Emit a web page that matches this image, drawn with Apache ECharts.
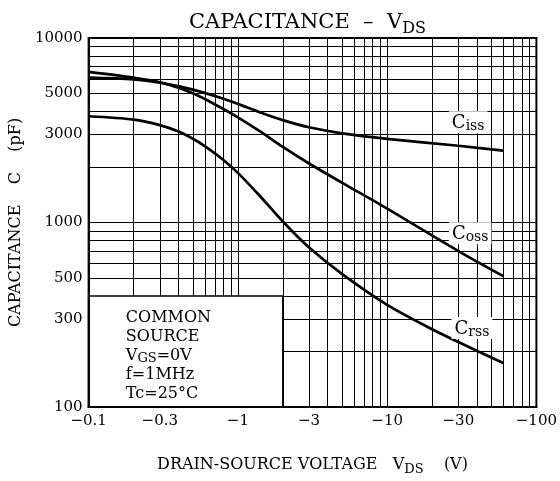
<!DOCTYPE html>
<html><head><meta charset="utf-8">
<script src="https://cdn.jsdelivr.net/npm/echarts@6/dist/echarts.min.js"></script>
<style>html,body{margin:0;padding:0;background:#fff}#c{width:560px;height:481px}</style>
</head><body><div id="c"></div>
<script>
// Voltage magnitudes |VDS| (V) and capacitances (pF)
const vCiss = [0.1, 0.2, 0.3, 0.5, 0.8, 1, 1.4, 2, 3, 5, 10, 30, 60];
const cCiss = [6095, 5970, 5728, 5248, 4688, 4395, 3963, 3589, 3281, 3041, 2838, 2606, 2450];
const vCoss = [0.1, 0.2, 0.3, 0.5, 0.8, 1, 1.4, 2, 3, 5, 10, 30, 60];
const cCoss = [6546, 6095, 5754, 5012, 4121, 3715, 3126, 2570, 2089, 1641, 1189, 700, 512];
const vCrss = [0.1, 0.2, 0.3, 0.4, 0.5, 0.6, 0.8, 1, 1.4, 2, 3, 5, 10, 20, 30, 60];
const cCrss = [3767, 3614, 3373, 3112, 2844, 2594, 2183, 1858, 1396, 1012, 731, 525, 358, 264, 225, 173];

const xTickLabels = [0.1, 0.3, 1, 3, 10, 30, 100];
const yTickLabels = [100, 300, 500, 1000, 3000, 5000, 10000];
const xGridVals = [0.2,0.3,0.4,0.5,0.6,0.7,0.8,0.9,1,2,3,4,5,6,7,8,9,10,20,30,40,50,60,70,80,90];
const yGridVals = [200,300,400,500,600,700,800,900,1000,2000,3000,4000,5000,6000,7000,8000,9000];

const curveLabels = [
  {name: 'iss', at: [34.9, 3490]},
  {name: 'oss', at: [36, 874]},
  {name: 'rss', at: [37, 268]}
];
const boxRange = [[0.1, 100], [2, 400]];

const FONT = 'DejaVu Serif';
const pair = (v, c) => v.map((x, i) => [x, c[i]]);
const fmtNum = v => String(parseFloat(Math.pow(10, v).toPrecision(3)));

const gridLines = xGridVals.map(v => ({xAxis: v})).concat(yGridVals.map(v => ({yAxis: v})));

const curveStyle = {color: '#000', width: 2.7};
function curve(name, data) {
  return {
    type: 'line', name, data, xAxisIndex: 0, yAxisIndex: 0, showSymbol: false, symbol: 'none',
    smooth: 0.3, lineStyle: curveStyle, z: 6, silent: true
  };
}

const chart = echarts.init(document.getElementById('c'), null, {renderer: 'canvas'});
chart.setOption({
  animation: false,
  backgroundColor: '#fff',
  title: {
    text: '{t|CAPACITANCE  –  V}{s|DS}',
    left: 184, top: 4,
    textStyle: {
      fontWeight: 'normal',
      rich: {
        t: {fontFamily: FONT, fontSize: 21, fontWeight: 'normal', color: '#000', lineHeight: 28},
        s: {fontFamily: FONT, fontSize: 16, fontWeight: 'normal', color: '#000', verticalAlign: 'bottom', lineHeight: 12}
      }
    }
  },
  grid: {left: 84, right: 23, top: 38, bottom: 67, show: true, borderColor: '#000', borderWidth: 2, backgroundColor: '#fff'},
  xAxis: [
    {type: 'log', logBase: 10, min: 0.1, max: 100, position: 'bottom',
     axisLine: {show: false}, axisTick: {show: false}, axisLabel: {show: false}, splitLine: {show: false}},
    {type: 'value', min: -1, max: 2, position: 'bottom', z: 10,
     axisLine: {show: true, lineStyle: {color: '#000', width: 2}},
     axisTick: {show: false}, splitLine: {show: false},
     axisLabel: {customValues: xTickLabels.map(Math.log10), formatter: v => '−' + fmtNum(v),
       fontFamily: FONT, fontSize: 15, color: '#000', margin: 7},
     name: '{t|DRAIN-SOURCE VOLTAGE   V}{s|DS}{t|    (V)}', nameLocation: 'middle', nameGap: 47,
     nameTextStyle: {rich: {
       t: {fontFamily: FONT, fontSize: 16, color: '#000', lineHeight: 22},
       s: {fontFamily: FONT, fontSize: 13, color: '#000', verticalAlign: 'bottom', lineHeight: 10}
     }}}
  ],
  yAxis: [
    {type: 'log', logBase: 10, min: 100, max: 10000, position: 'left',
     axisLine: {show: false}, axisTick: {show: false}, axisLabel: {show: false}, splitLine: {show: false}},
    {type: 'value', min: 2, max: 4, position: 'left', z: 10,
     axisLine: {show: true, lineStyle: {color: '#000', width: 2}},
     axisTick: {show: false}, splitLine: {show: false},
     axisLabel: {customValues: yTickLabels.map(Math.log10), formatter: v => fmtNum(v),
       fontFamily: FONT, fontSize: 15, color: '#000', margin: 6},
     name: 'CAPACITANCE    C    (pF)', nameLocation: 'middle', nameGap: 62,
     nameTextStyle: {fontFamily: FONT, fontSize: 16, color: '#000'}}
  ],
  series: [
    {
      type: 'line', data: [], xAxisIndex: 0, yAxisIndex: 0, silent: true,
      markLine: {silent: true, symbol: 'none', z: 1, animation: false, label: {show: false},
        lineStyle: {color: '#000', width: 1, type: 'solid'}, data: gridLines},
      markArea: {silent: true, z: 3, animation: false,
        itemStyle: {color: '#fff', borderColor: '#000', borderWidth: 1.5},
        label: {show: true, position: 'insideTopLeft', distance: 0, padding: [13, 0, 0, 38],
          formatter: '{t|COMMON}\n{t|SOURCE}\n{t|V}{s|GS}{t|=0V}\n{t|f=1MHz}\n{t|Tc=25°C}',
          rich: {
            t: {fontFamily: FONT, fontSize: 16, color: '#000', lineHeight: 19},
            s: {fontFamily: FONT, fontSize: 13, color: '#000', verticalAlign: 'bottom', lineHeight: 9}
          }},
        data: [[{coord: boxRange[0]}, {coord: boxRange[1]}]]}
    },
    curve('Ciss', pair(vCiss, cCiss)),
    curve('Coss', pair(vCoss, cCoss)),
    curve('Crss', pair(vCrss, cCrss)),
    {
      type: 'scatter', data: [], xAxisIndex: 0, yAxisIndex: 0, silent: true,
      markPoint: {silent: true, z: 8, symbol: 'rect', symbolSize: 0, animation: false,
        label: {show: true, position: 'inside', backgroundColor: '#fff', padding: [2, 3, 0, 3],
          formatter: p => '{c|C}{s|' + p.name + '}',
          rich: {
            c: {fontFamily: FONT, fontSize: 18, color: '#000', lineHeight: 20},
            s: {fontFamily: FONT, fontSize: 14, color: '#000', verticalAlign: 'bottom', lineHeight: 12}
          }},
        data: curveLabels.map(l => ({name: l.name, coord: l.at}))}
    }
  ]
});
</script></body></html>
